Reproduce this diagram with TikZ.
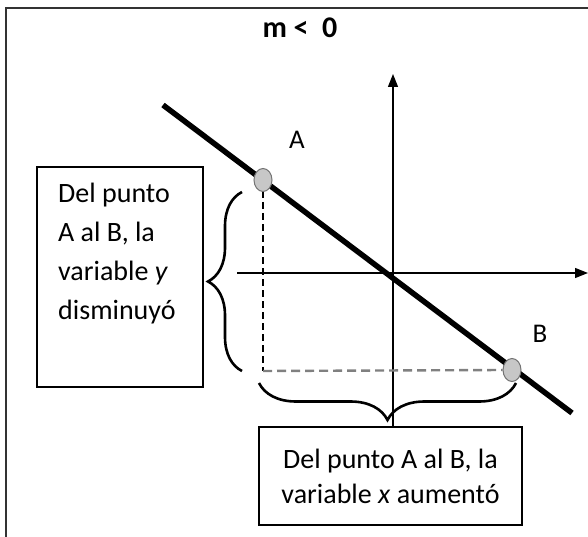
\documentclass[tikz,border=0pt]{standalone}
\usepackage{fontspec}
\setmainfont{Carlito}
\usetikzlibrary{shapes.geometric,decorations.pathreplacing,arrows.meta}
\begin{document}
\begin{tikzpicture}[x=1pt,y=-1pt,
  frameline/.style={line width=1.5pt,draw=black!80},
  axisline/.style={line width=1.3pt,-{Triangle[length=13pt,width=10pt]}},
  mainline/.style={line width=5.5pt,line cap=butt},
  ptmark/.style={ellipse,minimum width=18pt,minimum height=23pt,inner sep=0pt,fill=black!22,draw=black!55,line width=1pt},
  txtbox/.style={draw,line width=1.3pt,rectangle,inner sep=0pt},
  bracestyle/.style={line width=2.6pt,decorate,decoration={brace,amplitude=#1}},
  lbl/.style={font=\fontsize{27}{30}\selectfont,inner sep=0pt},
  dashv/.style={line width=1.4pt,dash pattern=on 7pt off 4pt},
  dashh/.style={line width=2.4pt,dash pattern=on 9pt off 5pt,draw=black!50}
]
\useasboundingbox (0,0) rectangle (588,537);
% frame
\coordinate (FB) at (6,540);
\coordinate (FT) at (6,8);
\coordinate (FR) at (590,8);
\draw[frameline] (FB) -- (FT) -- (FR);
% title
\node[font=\bfseries\fontsize{30}{32}\selectfont,inner sep=0pt] (title) at (300,28) {m <\ \ 0};
% axes
\coordinate (xs) at (237,273);
\coordinate (xe) at (588,273);
\coordinate (ys) at (393,427);
\coordinate (ye) at (393,74);
\draw[axisline] (xs) -- (xe);
\draw[axisline] (ys) -- (ye);
% main line
\coordinate (L1) at (163,105);
\coordinate (L2) at (572,413);
\draw[mainline] (L1) -- (L2);
% dashed projections
\coordinate (C) at (263,371);
\coordinate (Atop) at (263,180);
\draw[dashv] (Atop) -- (C);
\node[ptmark] (pB) at (512,370) {};
\draw[dashh] (C) -- (pB.west);
\node[ptmark] (pA) at (263,180) {};
% labels
\node[lbl] (labA) at (297,140) {A};
\node[lbl] (labB) at (540,334) {B};
% braces
\coordinate (b1s) at (242,371);
\coordinate (b1e) at (242,192);
\draw[bracestyle=34pt] (b1s) -- (b1e);
\coordinate (b2s) at (516,383);
\coordinate (b2e) at (259,383);
\draw[bracestyle=37pt] (b2s) -- (b2e);
% boxes
\node[txtbox,minimum width=166pt,minimum height=220pt] (boxL) at (120,277) {};
\node[anchor=north west,align=left,inner sep=0pt,font=\fontsize{28}{39}\selectfont] (txtL) at (58,183)
  {Del punto\\A al B, la\\variable \textit{y}\\disminuyó};
\node[txtbox,minimum width=263pt,minimum height=98pt,align=center,font=\fontsize{28}{35}\selectfont] (boxB) at (390.5,476)
  {Del punto A al B, la\\variable \textit{x} aumentó};
\end{tikzpicture}
\end{document}
